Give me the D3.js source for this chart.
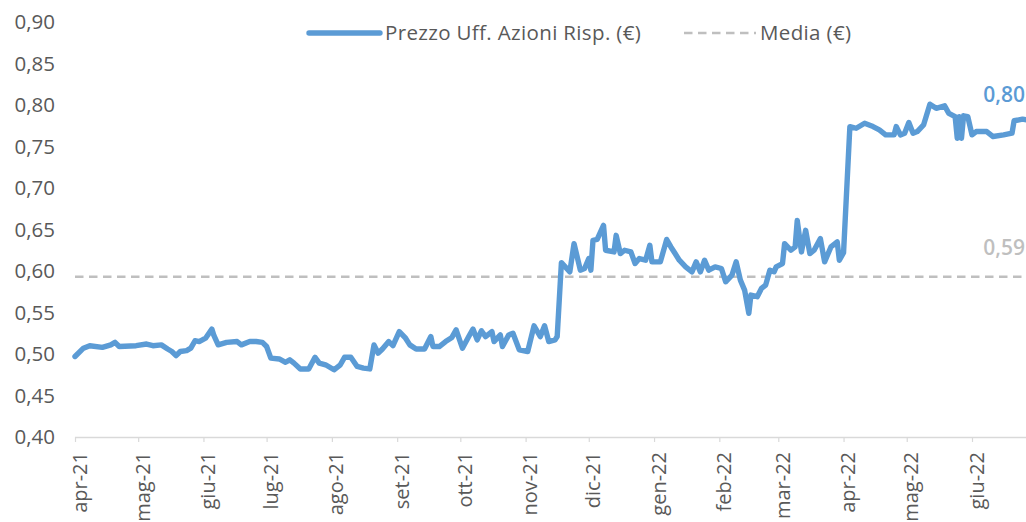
<!DOCTYPE html>
<html>
<head>
<meta charset="utf-8">
<script src="https://cdn.jsdelivr.net/npm/d3@7"></script>
<style>
  html, body { margin: 0; padding: 0; background: #ffffff; overflow: hidden; }
  svg { display: block; font-family: "Open Sans", "Noto Sans", sans-serif; }
</style>
</head>
<body>
<svg id="chart" width="1026" height="522"></svg>
<script>
// ---------- DATA ----------
const dates = [
  "2021-04-01","2021-04-05","2021-04-08","2021-04-14","2021-04-18","2021-04-20","2021-04-22","2021-04-30",
  "2021-05-05","2021-05-08","2021-05-12","2021-05-15","2021-05-17","2021-05-19","2021-05-21","2021-05-24",
  "2021-05-26","2021-05-28","2021-05-30","2021-06-02","2021-06-05","2021-06-06","2021-06-08","2021-06-12",
  "2021-06-17","2021-06-19","2021-06-23","2021-06-26","2021-06-29","2021-07-01","2021-07-03","2021-07-07",
  "2021-07-10","2021-07-12","2021-07-14","2021-07-17","2021-07-21","2021-07-24","2021-07-26","2021-07-29",
  "2021-08-02","2021-08-05","2021-08-07","2021-08-10","2021-08-13","2021-08-16","2021-08-19","2021-08-21",
  "2021-08-23","2021-08-25","2021-08-28","2021-08-30","2021-09-02","2021-09-05","2021-09-07","2021-09-10",
  "2021-09-14","2021-09-17","2021-09-18","2021-09-21","2021-09-24","2021-09-27","2021-09-29","2021-10-02",
  "2021-10-05","2021-10-07","2021-10-09","2021-10-11","2021-10-13","2021-10-16","2021-10-17","2021-10-20",
  "2021-10-21","2021-10-24","2021-10-26","2021-10-29","2021-11-02","2021-11-05","2021-11-08","2021-11-10",
  "2021-11-12","2021-11-15","2021-11-16","2021-11-18","2021-11-22","2021-11-24","2021-11-27","2021-11-29",
  "2021-12-01","2021-12-02","2021-12-03","2021-12-05","2021-12-08","2021-12-09","2021-12-13","2021-12-14",
  "2021-12-16","2021-12-18","2021-12-21","2021-12-23","2021-12-25","2021-12-28","2021-12-30","2021-12-31",
  "2022-01-04","2022-01-07","2022-01-09","2022-01-11","2022-01-13","2022-01-16","2022-01-19","2022-01-21",
  "2022-01-23","2022-01-25","2022-01-27","2022-01-30","2022-02-02","2022-02-04","2022-02-07","2022-02-09",
  "2022-02-11","2022-02-13","2022-02-15","2022-02-16","2022-02-19","2022-02-21","2022-02-23","2022-02-25",
  "2022-02-27","2022-02-28","2022-03-03","2022-03-04","2022-03-07","2022-03-09","2022-03-10","2022-03-12",
  "2022-03-14","2022-03-16","2022-03-18","2022-03-21","2022-03-23","2022-03-26","2022-03-29","2022-03-30",
  "2022-04-01","2022-04-04","2022-04-07","2022-04-11","2022-04-15","2022-04-18","2022-04-21","2022-04-25",
  "2022-04-26","2022-04-28","2022-04-30","2022-05-02","2022-05-04","2022-05-06","2022-05-09","2022-05-12",
  "2022-05-15","2022-05-19","2022-05-21","2022-05-24","2022-05-25","2022-05-26","2022-05-27","2022-05-28",
  "2022-05-30","2022-06-01","2022-06-03","2022-06-08","2022-06-11","2022-06-16","2022-06-20","2022-06-21",
  "2022-06-25","2022-06-27","2022-06-30"
];
const prices = [
  0.497,0.507,0.510,0.508,0.511,0.514,0.509,0.510,
  0.512,0.510,0.511,0.506,0.503,0.498,0.503,0.504,
  0.507,0.516,0.515,0.519,0.530,0.522,0.511,0.514,
  0.515,0.511,0.515,0.515,0.514,0.509,0.495,0.494,
  0.490,0.493,0.489,0.482,0.482,0.496,0.489,0.487,
  0.481,0.487,0.496,0.496,0.485,0.483,0.482,0.511,
  0.501,0.506,0.515,0.510,0.527,0.519,0.511,0.506,
  0.506,0.521,0.509,0.509,0.515,0.520,0.529,0.507,
  0.521,0.530,0.517,0.528,0.521,0.527,0.515,0.523,
  0.509,0.523,0.525,0.505,0.503,0.534,0.521,0.534,
  0.515,0.517,0.521,0.610,0.599,0.633,0.601,0.603,
  0.615,0.601,0.637,0.638,0.655,0.625,0.623,0.643,
  0.621,0.625,0.623,0.609,0.615,0.613,0.631,0.611,
  0.611,0.638,0.629,0.621,0.613,0.605,0.599,0.611,
  0.599,0.613,0.601,0.605,0.603,0.587,0.595,0.611,
  0.589,0.577,0.549,0.571,0.569,0.579,0.583,0.601,
  0.599,0.605,0.609,0.633,0.625,0.629,0.661,0.623,
  0.649,0.621,0.625,0.639,0.611,0.629,0.635,0.613,
  0.622,0.774,0.772,0.778,0.774,0.770,0.764,0.764,
  0.774,0.764,0.766,0.779,0.766,0.768,0.776,0.801,
  0.796,0.799,0.790,0.786,0.760,0.786,0.760,0.787,
  0.786,0.764,0.768,0.768,0.762,0.764,0.766,0.781,
  0.783,0.782,0.784
];
const mediaValue = 0.593;
const lastLabel = "0,80";
const mediaLabel = "0,59";
const seriesNames = ["Prezzo Uff. Azioni Risp. (€)", "Media (€)"];
const yTickValues = [0.40,0.45,0.50,0.55,0.60,0.65,0.70,0.75,0.80,0.85,0.90];
const xTickDates = ["2021-04-01","2021-05-01","2021-06-01","2021-07-01","2021-08-01","2021-09-01","2021-10-01",
  "2021-11-01","2021-12-01","2022-01-01","2022-02-01","2022-03-01","2022-04-01","2022-05-01","2022-06-01"];
const xTickLabels = ["apr-21","mag-21","giu-21","lug-21","ago-21","set-21","ott-21",
  "nov-21","dic-21","gen-22","feb-22","mar-22","apr-22","mag-22","giu-22"];

// ---------- LAYOUT ----------
const parse = d3.utcParse("%Y-%m-%d");
const svg = d3.select("#chart");
const W = 1026;
const plotLeft = 75, plotBottom = 437, plotTop = 22;

const x = d3.scaleUtc()
  .domain([parse("2021-04-01"), parse("2022-06-01")])
  .range([plotLeft, 972]);
const y = d3.scaleLinear().domain([0.40, 0.90]).range([plotBottom, plotTop]);

const series = dates.map((d, i) => ({ date: parse(d), value: prices[i] }));

const textColor = "#595959";
const lineColor = "#5b9bd5";
const meanColor = "#bfbfbf";
const axisColor = "#d9d9d9";

// Y axis (labels only)
const yAxis = svg.append("g")
  .attr("transform", `translate(${plotLeft},0)`)
  .call(d3.axisLeft(y).tickValues(yTickValues).tickSize(0).tickPadding(20)
    .tickFormat(d => d3.format(".2f")(d).replace(".", ",")));
yAxis.select(".domain").remove();
yAxis.selectAll("text")
  .attr("fill", textColor)
  .style("font-family", "'Open Sans', sans-serif")
  .style("font-size", "20.5px");

// X axis
const xAxis = svg.append("g")
  .attr("transform", `translate(0,${plotBottom})`)
  .call(d3.axisBottom(x)
    .tickValues(xTickDates.map(parse))
    .tickSize(5)
    .tickSizeOuter(0)
    .tickFormat((d, i) => xTickLabels[i]));
xAxis.select(".domain")
  .attr("d", `M${plotLeft},0.5H${W + 10}`)
  .attr("stroke", axisColor)
  .attr("stroke-width", 1.5);
xAxis.selectAll(".tick line").attr("stroke", axisColor).attr("stroke-width", 1.2);
xAxis.selectAll(".tick text")
  .attr("transform", "rotate(-90)")
  .attr("x", -15)
  .attr("y", 0)
  .attr("dy", "0.55em")
  .attr("text-anchor", "end")
  .attr("fill", textColor)
  .style("font-family", "'Open Sans', sans-serif")
  .style("font-size", "20px");

// Mean dashed line
svg.append("line")
  .attr("x1", plotLeft).attr("x2", W + 10)
  .attr("y1", y(mediaValue)).attr("y2", y(mediaValue))
  .attr("stroke", meanColor)
  .attr("stroke-width", 2.6)
  .attr("stroke-dasharray", "8.5,5.5");

// Price line
const line = d3.line().x(d => x(d.date)).y(d => y(d.value));
svg.append("path")
  .datum(series)
  .attr("fill", "none")
  .attr("stroke", lineColor)
  .attr("stroke-width", 5.4)
  .attr("stroke-linejoin", "round")
  .attr("stroke-linecap", "round")
  .attr("d", line);

// Data labels at the right edge
svg.append("text")
  .attr("x", 1025).attr("y", y(0.8125))
  .attr("dy", "0.35em")
  .attr("text-anchor", "end")
  .attr("fill", lineColor)
  .style("font-size", "21px")
  .style("font-weight", "600")
  .text(lastLabel);
svg.append("text")
  .attr("x", 1025).attr("y", y(mediaValue) - 29)
  .attr("dy", "0.35em")
  .attr("text-anchor", "end")
  .attr("fill", meanColor)
  .style("font-size", "21px")
  .style("font-weight", "600")
  .text(mediaLabel);

// Legend
const legY = 33;
const leg = svg.append("g");
leg.append("line")
  .attr("x1", 309).attr("x2", 380).attr("y1", legY).attr("y2", legY)
  .attr("stroke", lineColor).attr("stroke-width", 5.4).attr("stroke-linecap", "round");
leg.append("text")
  .attr("x", 385).attr("y", legY).attr("dy", "0.35em")
  .attr("fill", textColor).style("font-size", "20.5px")
  .style("letter-spacing", "0.35px")
  .text(seriesNames[0]);
leg.append("line")
  .attr("x1", 684).attr("x2", 756).attr("y1", legY).attr("y2", legY)
  .attr("stroke", meanColor).attr("stroke-width", 2.6)
  .attr("stroke-dasharray", "8.5,5.5");
leg.append("text")
  .attr("x", 760).attr("y", legY).attr("dy", "0.35em")
  .attr("fill", textColor).style("font-size", "20.5px")
  .style("letter-spacing", "0.35px")
  .text(seriesNames[1]);
</script>
</body>
</html>
